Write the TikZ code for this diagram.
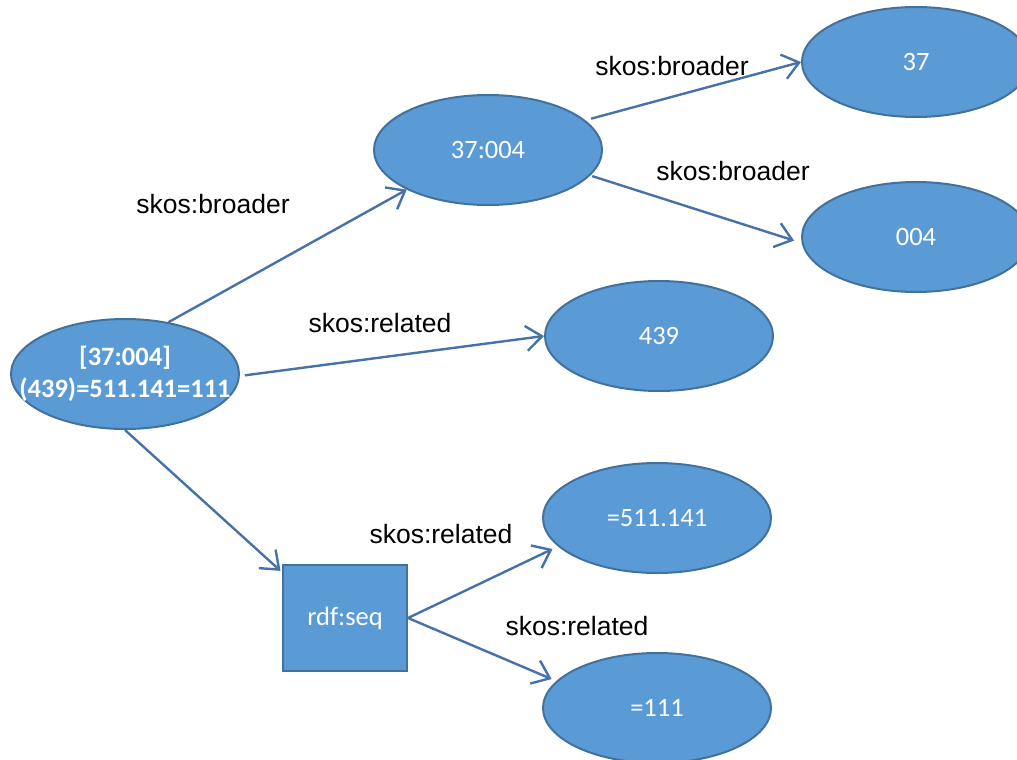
\documentclass[tikz,border=0pt]{standalone}
\usepackage{fontspec}
\setmainfont{Liberation Sans}
\newfontfamily\calibri{Carlito}
\usetikzlibrary{arrows.meta,shapes.geometric}
\definecolor{nodefill}{HTML}{5B9BD5}
\definecolor{nodeline}{HTML}{41719C}
\definecolor{edgeline}{HTML}{4672A8}
\tikzset{
  concept/.style={ellipse, fill=nodefill, draw=nodeline, line width=2pt,
    minimum width=228pt, minimum height=110pt, inner sep=0pt, text=white,
    font=\calibri\fontsize{26.5}{32}\selectfont, align=center},
  seqbox/.style={rectangle, fill=nodefill, draw=nodeline, line width=2pt,
    minimum width=124pt, minimum height=106pt, inner sep=0pt, text=white,
    font=\calibri\fontsize{26.5}{32}\selectfont},
  rel/.style={draw=edgeline, line width=2.4pt,
    -{Straight Barb[length=16pt,width=25pt]}},
  lbl/.style={font=\fontsize{26.5}{32}\selectfont, inner sep=0pt}
}
\begin{document}
\begin{tikzpicture}[x=1pt,y=-1pt]
\useasboundingbox (0,0) rectangle (1017,760);
\clip (0,0) rectangle (1017,760);

% concepts
\node[concept, font=\calibri\bfseries\fontsize{26.5}{32}\selectfont] (main) at (125,374)
  {\makebox[0pt]{[37:004]}\\\makebox[0pt]{(439)=511.141=111}};
\node[concept] (c37004) at (488,150) {37:004};
\node[concept] (c37) at (916,62) {37};
\node[concept] (c004) at (916,237) {004};
\node[concept] (c439) at (659,336) {439};
\node[seqbox] (seq) at (345,618) {rdf:seq};
\node[concept] (c511) at (657,518) {=511.141};
\node[concept] (c111) at (657,708) {=111};

% relations
\draw[rel] (main.50) -- (c37004.206);
\draw[rel, shorten <=5pt] (main.-1) -- (c439.west);
\draw[rel, shorten >=2pt] (main.south) -- (seq.144);
\draw[rel, shorten <=6pt] (c37004.17) -- (c37.west);
\draw[rel, shorten <=2pt, shorten >=8pt] (c37004.-14) -- (c004.183);
\draw[rel, shorten >=6pt] (seq.east) -- (c511.196);
\draw[rel, shorten >=5pt] (seq.east) -- (c111.165);

% relation labels
\node[lbl] (l1) at (213,204) {skos:broader};
\node[lbl] (l2) at (380,323) {skos:related};
\node[lbl] (l3) at (672,66) {skos:broader};
\node[lbl] (l4) at (733,171) {skos:broader};
\node[lbl] (l5) at (441,534) {skos:related};
\node[lbl] (l6) at (577,626) {skos:related};
\end{tikzpicture}
\end{document}
